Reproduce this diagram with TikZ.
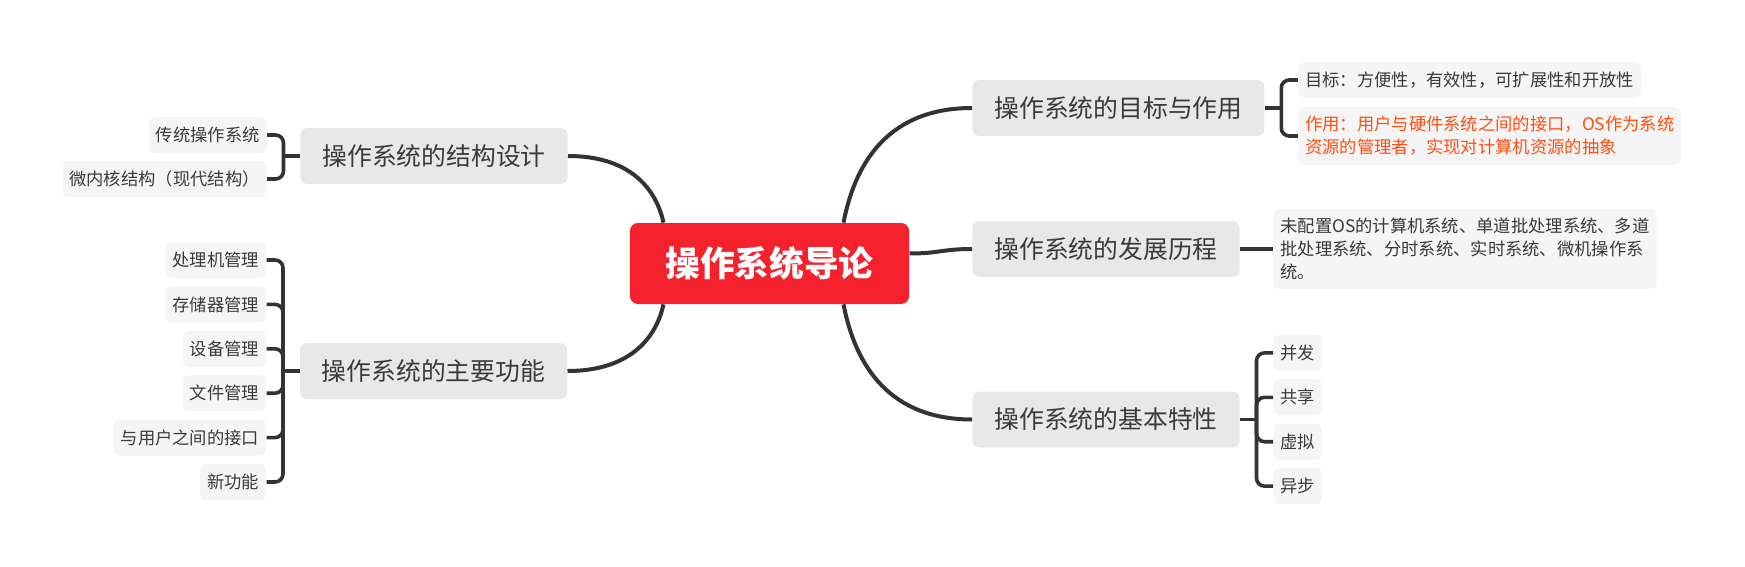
\documentclass[tikz,border=0pt]{standalone}
\usepackage{fontspec}
\setmainfont{Noto Sans CJK SC}
\usepackage{xcolor}
\usepackage{tikz}
\usetikzlibrary{positioning, calc}

\definecolor{rootred}{HTML}{F5222D}
\definecolor{topicgray}{HTML}{E8E8E8}
\definecolor{leafgray}{HTML}{F5F5F5}
\definecolor{inkgray}{HTML}{3A3A3A}
\definecolor{linegray}{HTML}{333333}
\definecolor{noteorange}{HTML}{FF5014}

\begin{document}
\begin{tikzpicture}[
    x=0.5pt, y=-0.5pt,
    node distance=16.5pt,
    box/.style={rounded corners=3pt, align=left, text=inkgray},
    root/.style={box, fill=rootred, text=white, rounded corners=4pt, inner xsep=17.75pt,
                 minimum height=40.5pt, font=\fontsize{17.35}{20}\selectfont\bfseries},
    topic/.style={box, fill=topicgray, rounded corners=3.5pt, inner xsep=11pt,
                  minimum height=28pt, font=\fontsize{12.4}{15}\selectfont},
    leaf/.style={box, fill=leafgray, inner xsep=3.5pt, inner ysep=4.5pt,
                 minimum height=18pt, font=\fontsize{8.65}{11.5}\selectfont},
    link/.style={draw=linegray, line width=2pt},
    fork/.style={draw=linegray, line width=1.8pt, rounded corners=4pt},
]
\useasboundingbox (0,0) rectangle (1745,567);

% Central topic and main branches
\node[root] (os) at (769.5,263.5) {操作系统导论};
\node[topic, anchor=west] (goal) at (972,108) {操作系统的目标与作用};
\node[topic, anchor=west] (hist) at (972,249) {操作系统的发展历程};
\node[topic, anchor=west] (feat) at (972,419.5) {操作系统的基本特性};
\node[topic, anchor=east] (struct) at (568,156) {操作系统的结构设计};
\node[topic, anchor=east] (func) at (567.5,371) {操作系统的主要功能};

% Leaves (right side)
\node[leaf, right=of goal, yshift=14pt] (aim) {目标：方便性，有效性，可扩展性和开放性};
\node[leaf, right=of goal, yshift=-14pt, text=noteorange] (role)
    {作用：用户与硬件系统之间的接口，OS作为系统\\资源的管理者，实现对计算机资源的抽象};
\node[leaf, right=of hist] (stages)
    {未配置OS的计算机系统、单道批处理系统、多道\\批处理系统、分时系统、实时系统、微机操作系\\统。};
\node[leaf, right=of feat, yshift=33.3pt] (conc) {并发};
\node[leaf, right=of feat, yshift=11.1pt] (share) {共享};
\node[leaf, right=of feat, yshift=-11.1pt] (virt) {虚拟};
\node[leaf, right=of feat, yshift=-33.3pt] (async) {异步};

% Leaves (left side)
\node[leaf, left=of struct, yshift=10.5pt] (trad) {传统操作系统};
\node[leaf, left=of struct, yshift=-11.5pt] (micro) {微内核结构（现代结构）};
\node[leaf, left=of func, yshift=55.5pt] (cpu) {处理机管理};
\node[leaf, left=of func, yshift=33.3pt] (mem) {存储器管理};
\node[leaf, left=of func, yshift=11.1pt] (dev) {设备管理};
\node[leaf, left=of func, yshift=-11.1pt] (file) {文件管理};
\node[leaf, left=of func, yshift=-33.3pt] (iface) {与用户之间的接口};
\node[leaf, left=of func, yshift=-55.5pt] (newf) {新功能};

% Curves from the central topic
\draw[link] ([xshift=-33pt]os.north east) .. controls +(12,-62) and +(-82,0) .. (goal.west);
\draw[link] ([yshift=5pt]os.east) .. controls +(30,0) and +(-30,0) .. (hist.west);
\draw[link] ([xshift=-33pt]os.south east) .. controls +(12,62) and +(-82,0) .. (feat.west);
\draw[link] ([xshift=17pt]os.north west) .. controls +(-8,-36) and +(60,0) .. (struct.east);
\draw[link] ([xshift=17pt]os.south west) .. controls +(-8,36) and +(60,0) .. (func.east);

% Brackets to the leaves
\draw[fork] (goal.east) -- ++(16.5,0) coordinate (goalfork);
\draw[fork] (goalfork) |- (aim.west);
\draw[fork] (goalfork) |- (role.west);
\draw[fork] (hist.east) -- (stages.west);
\draw[fork] (feat.east) -- ++(16.5,0) coordinate (featfork);
\draw[fork] (featfork) |- (conc.west);
\draw[fork] (featfork) |- (share.west);
\draw[fork] (featfork) |- (virt.west);
\draw[fork] (featfork) |- (async.west);
\draw[fork] (struct.west) -- ++(-16.5,0) coordinate (structfork);
\draw[fork] (structfork) |- (trad.east);
\draw[fork] (structfork) |- (micro.east);
\draw[fork] (func.west) -- ++(-16.5,0) coordinate (funcfork);
\draw[fork] (funcfork) |- (cpu.east);
\draw[fork] (funcfork) |- (mem.east);
\draw[fork] (funcfork) |- (dev.east);
\draw[fork] (funcfork) |- (file.east);
\draw[fork] (funcfork) |- (iface.east);
\draw[fork] (funcfork) |- (newf.east);
\end{tikzpicture}
\end{document}
